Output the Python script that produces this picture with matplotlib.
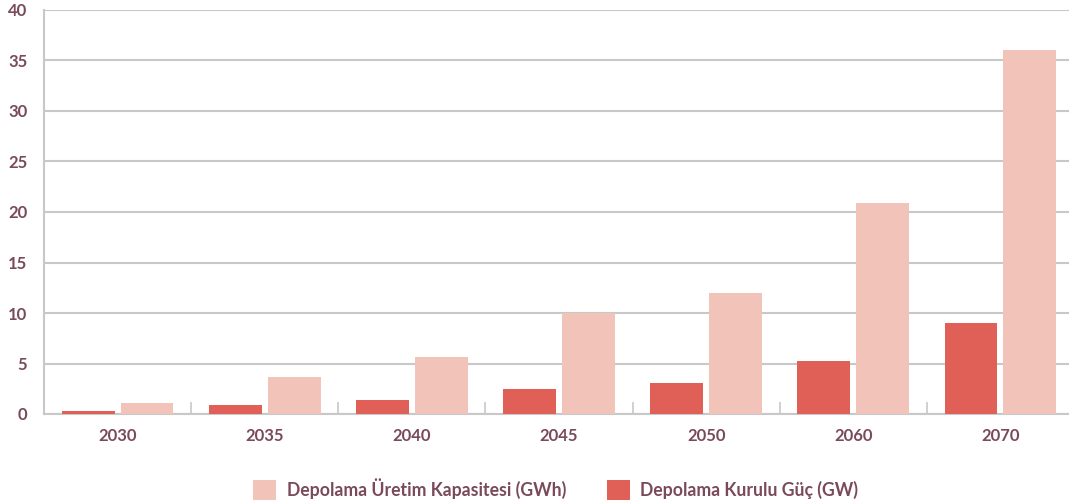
import matplotlib
matplotlib.use("Agg")
import matplotlib.pyplot as plt
import numpy as np

years = ["2030", "2035", "2040", "2045", "2050", "2060", "2070"]
guc_gw = [0.3, 0.9, 1.4, 2.5, 3.1, 5.25, 9.0]
kapasite_gwh = [1.1, 3.7, 5.6, 10.0, 12.0, 20.9, 36.0]
yticks = [0, 5, 10, 15, 20, 25, 30, 35, 40]

text_color = "#7a4a5b"
pink = "#f2c3b8"
red = "#e06058"
grid_color = "#c8c8c8"

plt.rcParams['font.family'] = ['Lato', 'DejaVu Sans']

fig = plt.figure(figsize=(10.69, 5.04), dpi=100)
ax = fig.add_axes([44/1069, 1-414/504, 1030/1069, 404/504])

x = np.arange(len(years))
w = 0.36
ax.bar(x - 0.2, guc_gw, width=w, color=red, zorder=3, label="Depolama Kurulu Güç (GW)")
ax.bar(x + 0.2, kapasite_gwh, width=w, color=pink, zorder=3, label="Depolama Üretim Kapasitesi (GWh)")

ax.set_xlim(-0.5, len(years) - 0.5)
ax.set_ylim(0, 40)
ax.set_yticks(yticks)
ax.set_yticklabels([str(v) for v in yticks])
ax.set_xticks(x)
ax.set_xticklabels(years)
ax.set_xticks(np.arange(0.5, len(years) - 0.5, 1), minor=True)

ax.yaxis.grid(True, color=grid_color, linewidth=1.5, zorder=0)
ax.set_axisbelow(True)
for s in ["top", "right"]:
    ax.spines[s].set_visible(False)
for s in ["left", "bottom"]:
    ax.spines[s].set_color(grid_color)
    ax.spines[s].set_linewidth(1.5)

ax.tick_params(axis='y', length=0, pad=12, labelsize=12, labelcolor=text_color)
ax.tick_params(axis='x', which='major', length=0, pad=10, labelsize=12, labelcolor=text_color)
ax.tick_params(axis='x', which='minor', length=9, direction='in', color=grid_color, width=1.2)
for lbl in ax.get_xticklabels() + ax.get_yticklabels():
    lbl.set_fontweight('bold')

handles, labels = ax.get_legend_handles_labels()
leg = fig.legend(handles[::-1], labels[::-1], loc='center', bbox_to_anchor=(0.52, 0.03),
                 ncol=2, frameon=False, fontsize=12.7, handlelength=1.3, handleheight=1.3,
                 columnspacing=2.3, handletextpad=0.6)
for t in leg.get_texts():
    t.set_color(text_color)
    t.set_fontweight('bold')

fig.savefig("out.png", dpi=100)
